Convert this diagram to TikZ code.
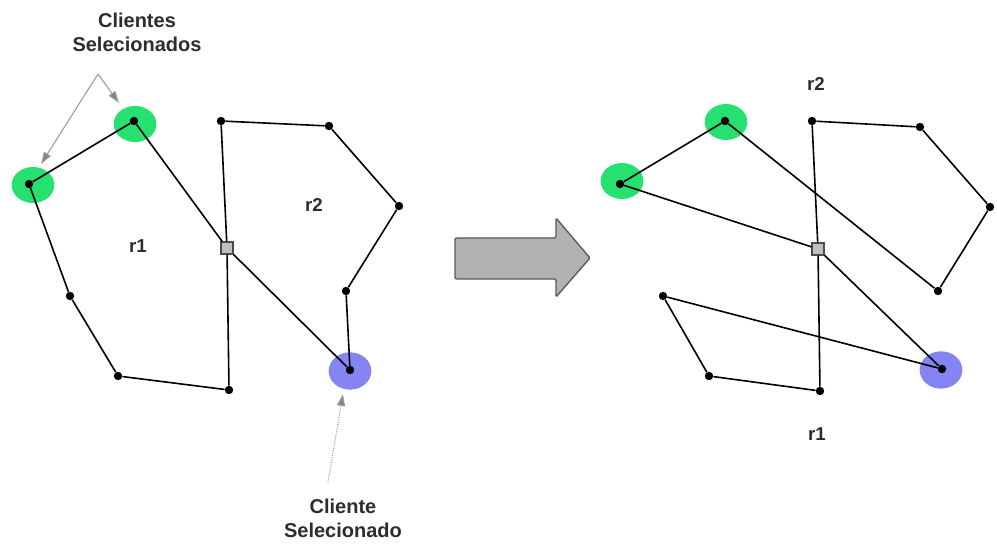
\documentclass[tikz,border=0pt]{standalone}
\usepackage{fontspec}
\setmainfont{Liberation Sans}
\usetikzlibrary{arrows.meta}

\definecolor{hlgreen}{RGB}{38,224,112}
\definecolor{hlblue}{RGB}{132,132,242}
\definecolor{txt}{RGB}{45,45,45}
\definecolor{pointer}{RGB}{155,155,155}
\definecolor{bigarrow}{RGB}{178,178,178}

\begin{document}
\begin{tikzpicture}[x=0.75pt,y=-0.75pt,
  client/.style={circle,fill=black,inner sep=0pt,minimum size=6.3pt},
  depot/.style={rectangle,draw=black!70,fill=black!25,line width=0.8pt,inner sep=0pt,minimum size=9pt},
  route/.style={line width=1.2pt,black},
  lbl/.style={text=txt,font=\bfseries\fontsize{14}{16}\selectfont},
  note/.style={text=txt,font=\bfseries\fontsize{15}{18}\selectfont,align=center},
  ptr/.style={draw=pointer,line width=0.8pt,-{Triangle[length=9pt,width=6pt,fill=pointer!85!black]}},
  greenhl/.style={fill=hlgreen},
  bluehl/.style={fill=hlblue}]
\useasboundingbox (0,0) rectangle (997,545);

% ---------------- before: two routes sharing the depot ----------------
\fill[greenhl] (33,185) ellipse [x radius=16pt, y radius=13.5pt];
\fill[greenhl] (135,124) ellipse [x radius=16pt, y radius=13.5pt];
\fill[bluehl]  (350,371) ellipse [x radius=16pt, y radius=14pt];

\node[client] (a) at (29,184) {};
\node[client] (b) at (134,121) {};
\node[client] (c) at (221,121) {};
\node[client] (e) at (329,126) {};
\node[client] (f) at (399,206) {};
\node[client] (g) at (346,291) {};
\node[client] (h) at (350,370) {};
\node[client] (i) at (229,390) {};
\node[client] (j) at (118,376) {};
\node[client] (k) at (70,296) {};

% route r1
\draw[route] (a) -- (b);
\draw[route] (a) -- (k) -- (j) -- (i);
% route r2
\draw[route] (c) -- (e) -- (f) -- (g) -- (h);

\node[depot] (d) at (227,248) {};
\draw[route] (b) -- (d);
\draw[route] (i) -- (d);
\draw[route] (c) -- (d);
\draw[route] (h) -- (d);

\node[lbl] (r1a) at (138,246) {r1};
\node[lbl] (r2a) at (314,205) {r2};

% pointers to the selected customers
\node[note] (sel2) at (137,32) {Clientes\\Selecionados};
\coordinate (fork) at (98,74);
\draw[ptr] (fork) -- (41,164);
\draw[ptr] (fork) -- (119,103);

\node[note] (sel1) at (343,518) {Cliente\\Selecionado};
\coordinate (dotstart) at (328,482);
\draw[ptr,densely dotted] (dotstart) -- (343,394);

% ---------------- transformation arrow ----------------
\draw[fill=bigarrow,draw=black!65,line width=1pt,rounded corners=1pt]
  (455,238) -- (556,238) -- (556,218) -- (590,258) -- (556,297)
  -- (556,279) -- (455,279) -- cycle;

% ---------------- after: exchanged customers ----------------
\fill[greenhl] (622,181) ellipse [x radius=16pt, y radius=13.5pt];
\fill[greenhl] (726,122) ellipse [x radius=16pt, y radius=13.5pt];
\fill[bluehl]  (941,370) ellipse [x radius=16pt, y radius=14pt];

\node[client] (a2) at (620,184) {};
\node[client] (b2) at (725,121) {};
\node[client] (c2) at (812,121) {};
\node[client] (e2) at (920,127) {};
\node[client] (f2) at (990,207) {};
\node[client] (g2) at (938,291) {};
\node[client] (h2) at (942,369) {};
\node[client] (i2) at (820,391) {};
\node[client] (j2) at (709,376) {};
\node[client] (k2) at (663,296) {};

% route r2
\draw[route] (a2) -- (b2) -- (g2) -- (f2) -- (e2) -- (c2);
% route r1
\draw[route] (h2) -- (k2) -- (j2) -- (i2);

\node[depot] (d2) at (818,249) {};
\draw[route] (c2) -- (d2);
\draw[route] (a2) -- (d2);
\draw[route] (d2) -- (h2);
\draw[route] (i2) -- (d2);

\node[lbl] (r2b) at (816,84) {r2};
\node[lbl] (r1b) at (817,434) {r1};
\end{tikzpicture}
\end{document}
